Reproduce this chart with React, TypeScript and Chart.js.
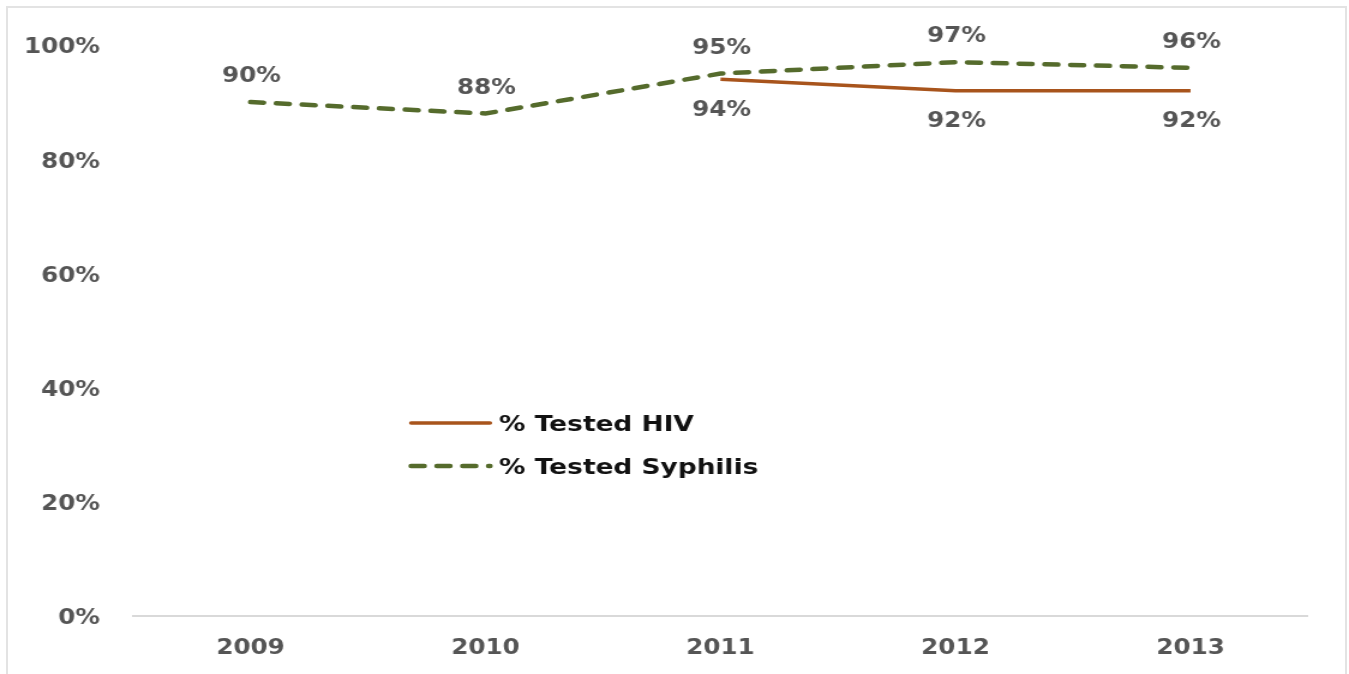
import React, { useEffect, useRef } from "react";
import { Chart, registerables } from "chart.js";

Chart.register(...registerables);

const years = ["2009", "2010", "2011", "2012", "2013"];
const hivTested = [null, null, 94, 92, 92];
const syphilisTested = [90, 88, 95, 97, 96];
const yTicks = [0, 20, 40, 60, 80, 100];

const HIV_COLOR = "#A8541C";
const SYPH_COLOR = "#556B2C";
const TEXT_GRAY = "#555555";
const FONT = "'DejaVu Sans', Verdana, sans-serif";

// canvas is drawn narrower and stretched horizontally, like the reference
const VIEW_W = 1349;
const VIEW_H = 674;
const S = 1.2;
const CANVAS_W = Math.round(VIEW_W / S);
const sx = (v: number) => v / S;

const labelsPlugin = {
  id: "pointLabels",
  afterDatasetsDraw(chart: any) {
    const ctx = chart.ctx;
    ctx.save();
    ctx.font = `bold 20.5px ${FONT}`;
    ctx.fillStyle = TEXT_GRAY;
    ctx.textAlign = "center";
    ctx.textBaseline = "middle";
    chart.data.datasets.forEach((ds: any, i: number) => {
      const meta = chart.getDatasetMeta(i);
      meta.data.forEach((pt: any, j: number) => {
        const v = ds.data[j];
        if (v === null || v === undefined) return;
        const dy = ds.labelPos === "below" ? 31 : -25;
        ctx.fillText(`${v}%`, pt.x + sx(1), pt.y + dy);
      });
    });
    ctx.restore();
  },
};

const legendPlugin = {
  id: "innerLegend",
  afterDraw(chart: any) {
    const ctx = chart.ctx;
    const a = chart.chartArea;
    const x0 = a.left + sx(278);
    const x1 = x0 + sx(79);
    const ys = [a.top + 378, a.top + 421];
    ctx.save();
    chart.data.datasets.forEach((ds: any, i: number) => {
      const y = ys[i];
      ctx.beginPath();
      ctx.strokeStyle = ds.borderColor;
      ctx.lineWidth = ds.borderWidth;
      ctx.lineCap = "round";
      ctx.setLineDash(ds.borderDash || []);
      ctx.moveTo(x0, y);
      ctx.lineTo(x1, y);
      ctx.stroke();
      ctx.setLineDash([]);
      ctx.font = `bold 22px ${FONT}`;
      ctx.fillStyle = "#111111";
      ctx.textAlign = "left";
      ctx.textBaseline = "middle";
      ctx.fillText(ds.label, x1 + sx(9), y + 2);
    });
    ctx.restore();
  },
};

export default function App() {
  const ref = useRef<HTMLCanvasElement | null>(null);

  useEffect(() => {
    document.body.style.margin = "0";
    document.body.style.overflow = "hidden";
    const canvas = ref.current!;
    const chart = new Chart(canvas, {
      type: "line",
      data: {
        labels: years,
        datasets: [
          {
            label: "% Tested HIV",
            data: hivTested,
            borderColor: HIV_COLOR,
            backgroundColor: HIV_COLOR,
            borderWidth: 3.5,
            pointRadius: 0,
            tension: 0,
            spanGaps: false,
            labelPos: "below",
          } as any,
          {
            label: "% Tested Syphilis",
            data: syphilisTested,
            borderColor: SYPH_COLOR,
            backgroundColor: SYPH_COLOR,
            borderWidth: 4.5,
            borderDash: [11, 10.5],
            borderCapStyle: "round",
            pointRadius: 0,
            tension: 0,
            labelPos: "above",
          } as any,
        ],
      },
      options: {
        responsive: false,
        animation: false,
        events: [],
        layout: { padding: { top: 45, right: sx(41), left: 0, bottom: 0 } },
        plugins: {
          legend: { display: false },
          tooltip: { enabled: false },
          title: { display: false },
        },
        scales: {
          x: {
            offset: true,
            grid: { display: false, drawTicks: false },
            border: { display: true, color: "#D9D9D9", width: 2 },
            ticks: {
              color: TEXT_GRAY,
              font: { family: FONT, size: 20.5, weight: "bold" },
              padding: 20,
            },
            afterFit(scale: any) {
              scale.height = 58;
            },
          },
          y: {
            min: 0,
            max: 100,
            afterBuildTicks(scale: any) {
              scale.ticks = yTicks.map((v) => ({ value: v }));
            },
            grid: { display: false, drawTicks: false },
            border: { display: false },
            ticks: {
              color: TEXT_GRAY,
              font: { family: FONT, size: 20.5, weight: "bold" },
              padding: sx(33),
              labelOffset: 3,
              callback: (v: any) => `${v}%`,
            },
            afterFit(scale: any) {
              scale.width = sx(133);
            },
          },
        },
      },
      plugins: [labelsPlugin, legendPlugin],
    });
    return () => chart.destroy();
  }, []);

  return (
    <div>
      <div
        style={{
          position: "fixed",
          left: 6,
          top: 6,
          width: 1341,
          height: 720,
          border: "2px solid #E3E3E3",
          boxSizing: "border-box",
        }}
      />
      <canvas
        ref={ref}
        width={CANVAS_W}
        height={VIEW_H}
        style={{ position: "fixed", left: 0, top: 0, width: VIEW_W, height: VIEW_H }}
      />
    </div>
  );
}
